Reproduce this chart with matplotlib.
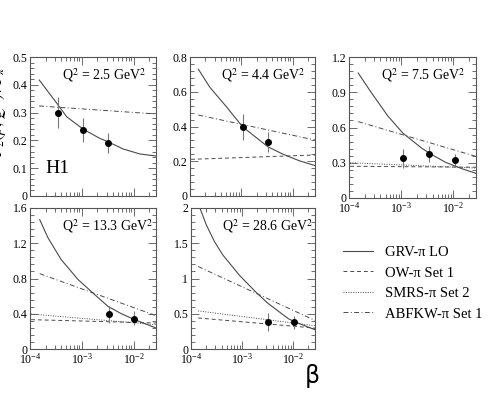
import matplotlib
matplotlib.use("Agg")
import matplotlib.pyplot as plt
from matplotlib.ticker import FixedLocator, AutoMinorLocator, FuncFormatter, LogLocator, NullFormatter
from matplotlib.lines import Line2D
import numpy as np

plt.rcParams['font.family'] = ['Liberation Serif', 'DejaVu Serif']
plt.rcParams['mathtext.fontset'] = 'stix'

# ---------------- data ----------------
q2_labels = ["2.5", "4.4", "7.5", "13.3", "28.6"]

# data points: beta, value, error low, error high
pts_beta = [[3.5e-4, 1.07e-3, 3.2e-3],
            [1.05e-3, 3.25e-3],
            [1.07e-3, 3.4e-3, 1.08e-2],
            [3.3e-3, 1.0e-2],
            [3.2e-3, 1.05e-2]]
pts_val = [[0.300, 0.237, 0.192],
           [0.399, 0.309],
           [0.340, 0.374, 0.320],
           [0.400, 0.344],
           [0.382, 0.377]]
pts_lo = [[0.245, 0.195, 0.156],
          [0.322, 0.255],
          [0.255, 0.303, 0.270],
          [0.295, 0.276],
          [0.260, 0.283]]
pts_hi = [[0.357, 0.280, 0.228],
          [0.470, 0.370],
          [0.417, 0.445, 0.377],
          [0.484, 0.435],
          [0.510, 0.470]]

# GRV-pi LO curves
grv_beta = [[1.51e-4, 2.43e-4, 3.5e-4, 5.1e-4, 1.07e-3, 2.24e-3, 3.2e-3, 6.3e-3, 1.33e-2, 2.7e-2],
            [1.45e-4, 2.43e-4, 5.1e-4, 1.05e-3, 2.24e-3, 3.25e-3, 6.3e-3, 1.33e-2, 2.7e-2],
            [1.5e-4, 2.58e-4, 5.5e-4, 1.07e-3, 2.45e-3, 3.4e-3, 7.1e-3, 1.5e-2, 2.7e-2],
            [1.54e-4, 2.23e-4, 4.0e-4, 8.5e-4, 1.78e-3, 3.2e-3, 5.8e-3, 1.05e-2, 2.7e-2],
            [1.49e-4, 2.0e-4, 2.9e-4, 4.2e-4, 8.8e-4, 1.85e-3, 3.2e-3, 8.1e-3, 1.05e-2, 2.7e-2]]
grv_vals = [[0.417, 0.366, 0.327, 0.285, 0.240, 0.207, 0.195, 0.169, 0.151, 0.144],
            [0.730, 0.626, 0.514, 0.399, 0.322, 0.284, 0.242, 0.203, 0.175],
            [1.064, 0.907, 0.700, 0.553, 0.425, 0.383, 0.303, 0.247, 0.210],
            [1.468, 1.260, 1.014, 0.787, 0.616, 0.484, 0.400, 0.333, 0.238],
            [2.000, 1.760, 1.520, 1.335, 1.050, 0.810, 0.650, 0.430, 0.390, 0.273]]

# ABFKW-pi Set 1
abf_start = [1.5e-4, 1.45e-4, 1.5e-4, 1.54e-4, 1.38e-4]
abf_end = 2.7e-2
abf_vals = [[0.324, 0.295],
            [0.466, 0.322],
            [0.650, 0.354],
            [0.855, 0.378],
            [1.170, 0.405]]

# OW-pi Set 1 (not in panel 1)
ow_start = [None, 1.05e-4, 1.05e-4, 1.05e-4, 1.38e-4]
ow_end = 2.7e-2
ow_vals = [None,
           [0.211, 0.236],
           [0.270, 0.262],
           [0.333, 0.295],
           [0.440, 0.297]]

# SMRS-pi Set 2 (panels 3-5)
smrs_start = [None, None, 1.05e-4, 1.05e-4, 1.38e-4]
smrs_end = 2.7e-2
smrs_vals = [None,
             None,
             [0.300, 0.255],
             [0.397, 0.276],
             [0.540, 0.330]]

y_max = [0.5, 0.8, 1.2, 1.6, 2.0]
y_major = [[0, 0.1, 0.2, 0.3, 0.4, 0.5],
           [0, 0.2, 0.4, 0.6, 0.8],
           [0, 0.3, 0.6, 0.9, 1.2],
           [0, 0.4, 0.8, 1.2, 1.6],
           [0, 0.5, 1, 1.5, 2]]

legend_labels = ["GRV-π LO", "OW-π Set 1", "SMRS-π Set 2", "ABFKW-π Set 1"]

# ---------------- layout ----------------
W, H = 500, 395
fig = plt.figure(figsize=(W / 100, H / 100), dpi=100)

# pixel boxes: left, right, top, bottom
boxes = [(30, 156, 57, 196), (190, 315, 57, 196), (349, 476, 57, 198),
         (30, 156, 208, 349), (191, 315, 208, 349)]
show_xlabels = [False, False, True, True, True]

curve_col = '#4a4a4a'
ls_ow = (0, (4, 3))
ls_smrs = (0, (1, 1.5))
ls_abf = (0, (5, 2.5, 1, 2.5))


def fmt_y(v, pos):
    return "%g" % v


for i, (l, r, t, b) in enumerate(boxes):
    ax = fig.add_axes([l / W, 1 - b / H, (r - l) / W, (b - t) / H])
    ax.set_xscale('log')
    ax.set_xlim(1e-4, 2.7e-2)
    ax.set_ylim(0, y_max[i])

    ax.plot(grv_beta[i], grv_vals[i], color=curve_col, lw=0.8)
    ax.plot([abf_start[i], abf_end], abf_vals[i], color=curve_col, lw=0.7, linestyle=ls_abf)
    if ow_vals[i] is not None:
        ax.plot([ow_start[i], ow_end], ow_vals[i], color=curve_col, lw=0.7, linestyle=ls_ow)
    if smrs_vals[i] is not None:
        ax.plot([smrs_start[i], smrs_end], smrs_vals[i], color=curve_col, lw=0.7,
                linestyle=ls_smrs)

    v = np.array(pts_val[i])
    lo = v - np.array(pts_lo[i])
    hi = np.array(pts_hi[i]) - v
    ax.errorbar(pts_beta[i], v, yerr=[lo, hi], fmt='o', color='black', ms=4,
                ecolor='#777777', elinewidth=0.8, capsize=0, zorder=5)

    ax.yaxis.set_major_locator(FixedLocator(y_major[i]))
    ax.yaxis.set_minor_locator(AutoMinorLocator(5))
    ax.yaxis.set_major_formatter(FuncFormatter(fmt_y))
    ax.xaxis.set_major_locator(LogLocator(base=10, numticks=10))
    ax.xaxis.set_minor_locator(LogLocator(base=10, subs=np.arange(2, 10), numticks=10))
    ax.xaxis.set_minor_formatter(NullFormatter())
    if not show_xlabels[i]:
        ax.xaxis.set_major_formatter(NullFormatter())
    ax.tick_params(which='both', direction='in', top=True, right=True,
                   labelsize=8.5, color='#555555', width=0.6, pad=2)
    ax.tick_params(which='major', length=6)
    ax.tick_params(which='minor', length=3)
    for sp in ax.spines.values():
        sp.set_color('#555555')
        sp.set_linewidth(0.8)

    ax.text(0.25, 0.87, "Q$^2$ = " + q2_labels[i] + " GeV$^2$", transform=ax.transAxes,
            fontsize=10, ha='left', va='center')
    if i == 0:
        ax.text(0.12, 0.2, "H1", transform=ax.transAxes, fontsize=14, ha='left', va='center')

# beta label
fig.text(312 / W, 1 - 376 / H, "β", fontsize=17, family=['DejaVu Sans'],
         ha='center', va='center')

# y label, mostly off canvas
fig.text(9 / W, 1 - 112 / H, r"$F_2(\beta,Q^2)\,/\,\Gamma_\pi$", fontsize=12,
         rotation=90, ha='right', va='center')

# legend
handles = [Line2D([], [], color=curve_col, lw=0.8),
           Line2D([], [], color=curve_col, lw=0.7, linestyle=ls_ow),
           Line2D([], [], color=curve_col, lw=0.7, linestyle=ls_smrs),
           Line2D([], [], color=curve_col, lw=0.7, linestyle=ls_abf)]
fig.legend(handles, legend_labels, loc='upper left',
           bbox_to_anchor=(337 / W, 1 - 240 / H), frameon=False, fontsize=10.5,
           handlelength=2.1, handletextpad=0.8, labelspacing=0.5, borderaxespad=0)

fig.savefig("out.png", dpi=100)
